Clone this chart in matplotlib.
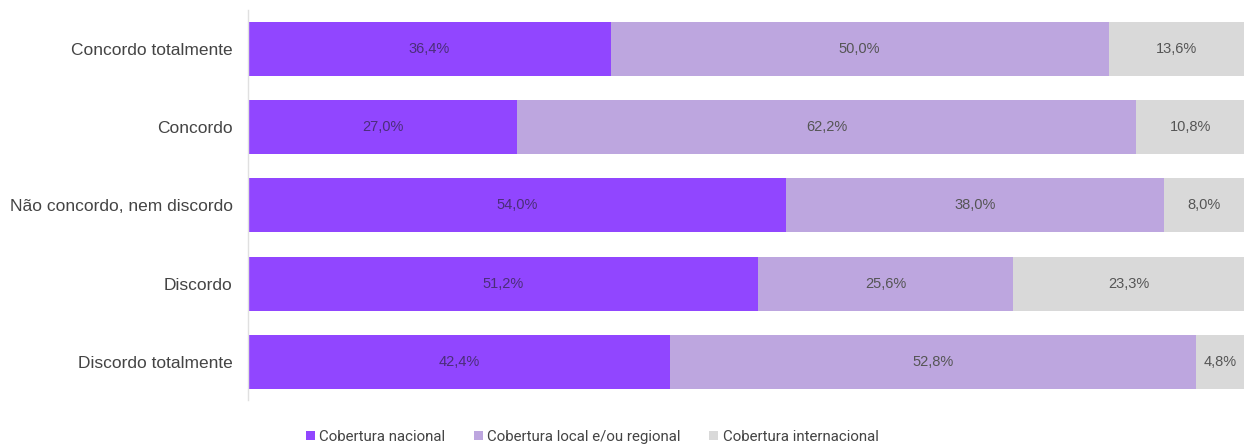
import matplotlib
matplotlib.use("Agg")
import matplotlib.pyplot as plt
from matplotlib.patches import Patch

categories = ["Concordo totalmente", "Concordo", "Não concordo, nem discordo", "Discordo", "Discordo totalmente"]
series_names = ["Cobertura nacional", "Cobertura local e/ou regional", "Cobertura internacional"]
nacional = [36.4, 27.0, 54.0, 51.2, 42.4]
local = [50.0, 62.2, 38.0, 25.6, 52.8]
internacional = [13.6, 10.8, 8.0, 23.3, 4.8]

colors = ["#9146FF", "#BDA6DF", "#D9D9D9"]
text_colors = ["#4B2E7A", "#555555", "#555555"]

fig = plt.figure(figsize=(12.44, 4.45), dpi=100)
ax = fig.add_axes([248/1244, 45/445, 1 - 248/1244, 390/445])

y = list(range(len(categories)))
left = [0.0]*len(categories)
for vals, col, tc in zip([nacional, local, internacional], colors, text_colors):
    ax.barh(y, vals, left=left, height=0.69, color=col, edgecolor="none")
    for yi, l, v in zip(y, left, vals):
        ax.text(l + v/2, yi, f"{v:.1f}%".replace(".", ","), ha="center", va="center",
                fontsize=10.5, color=tc, family=["Liberation Sans", "DejaVu Sans"])
    left = [a + b for a, b in zip(left, vals)]

ax.set_xlim(0, 100)
ax.set_ylim(4.486, -0.498)
ax.set_yticks(y)
ax.set_yticklabels(categories, fontsize=12.5, color="#444444", family=["Liberation Sans", "DejaVu Sans"])
ax.tick_params(axis="y", length=0, pad=11)
ax.set_xticks([])
for s in ["top", "right", "bottom"]:
    ax.spines[s].set_visible(False)
ax.spines["left"].set_color("#E0E0E0")
ax.spines["left"].set_linewidth(1)

handles = [Patch(facecolor=c, edgecolor="none") for c in colors]
fig.legend(handles, series_names, loc="center", bbox_to_anchor=(592/1244, 1 - 437/445), ncol=3,
           frameon=False, handlelength=0.6, handleheight=0.6, handletextpad=0.3,
           columnspacing=1.9, labelcolor="#444444",
           prop={"family": ["Roboto", "DejaVu Sans"], "size": 10.8})

fig.savefig("out.png", dpi=100, facecolor="white")
